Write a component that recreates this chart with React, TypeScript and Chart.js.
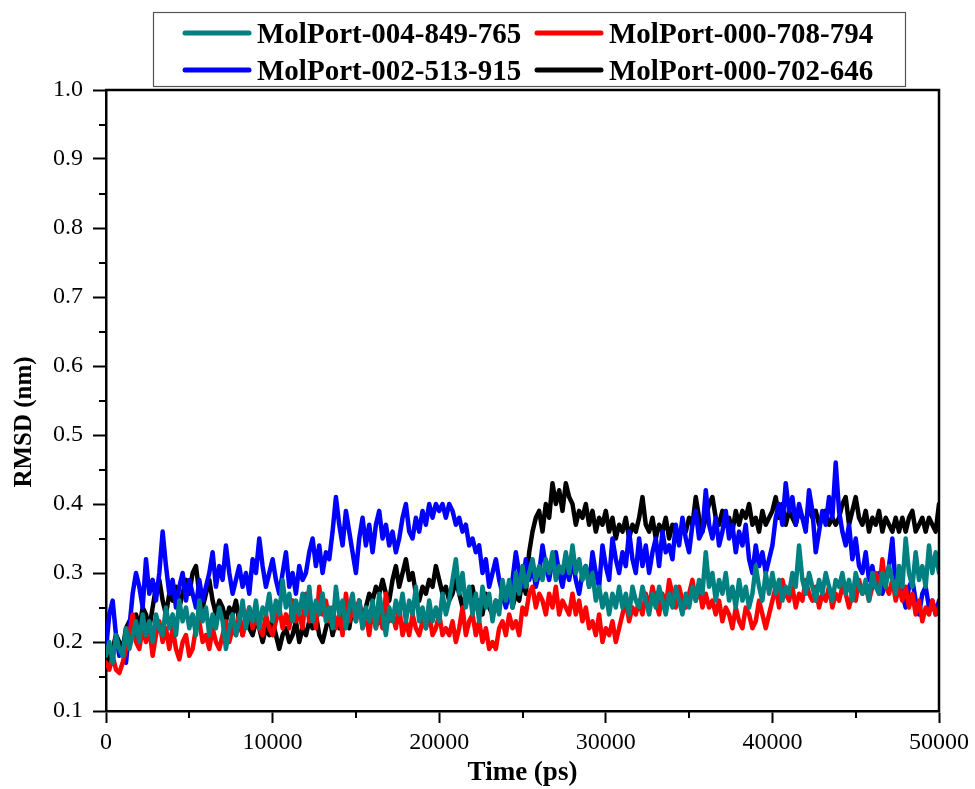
import React, { useEffect, useRef } from "react";
import { Chart, registerables } from "chart.js";

Chart.register(...registerables);

// ---------- data ----------
const SERIES_NAMES = [
  "MolPort-004-849-765",
  "MolPort-000-708-794",
  "MolPort-002-513-915",
  "MolPort-000-702-646",
];
const SERIES_COLORS = ["#008080", "#FF0000", "#0000FF", "#000000"];

const TIME_STEP_PS = 200; // sampling interval of the trajectory (ps)

const teal = [
  0.18, 0.2, 0.17, 0.21, 0.19, 0.18, 0.22, 0.19, 0.21, 0.23, 0.2, 0.24, 0.21, 0.23, 0.2, 0.24, 0.22, 0.21, 0.25, 0.22,
  0.24, 0.21, 0.26, 0.23, 0.25, 0.22, 0.24, 0.21, 0.26, 0.23, 0.25, 0.21, 0.24, 0.22, 0.25, 0.23, 0.19, 0.22, 0.24, 0.21,
  0.23, 0.26, 0.22, 0.25, 0.23, 0.26, 0.22, 0.25, 0.24, 0.27, 0.23, 0.26, 0.24, 0.29, 0.25, 0.27, 0.23, 0.26, 0.24, 0.27,
  0.24, 0.28, 0.23, 0.26, 0.24, 0.27, 0.23, 0.25, 0.22, 0.28, 0.24, 0.26, 0.22, 0.25, 0.27, 0.23, 0.26, 0.22, 0.25, 0.23,
  0.26, 0.22, 0.27, 0.24, 0.21, 0.25, 0.23, 0.26, 0.24, 0.27, 0.23, 0.26, 0.24, 0.28, 0.23, 0.25, 0.22, 0.26, 0.23, 0.25,
  0.23, 0.27, 0.24, 0.26, 0.29, 0.32, 0.27, 0.3, 0.25, 0.28, 0.24, 0.27, 0.23, 0.28, 0.25, 0.27, 0.23, 0.26, 0.24, 0.29,
  0.26, 0.29, 0.25, 0.3, 0.27, 0.31, 0.28, 0.3, 0.32, 0.29, 0.31, 0.29, 0.32, 0.3, 0.33, 0.29, 0.31, 0.3, 0.33, 0.3,
  0.34, 0.3, 0.32, 0.29, 0.31, 0.28, 0.3, 0.26, 0.28, 0.25, 0.27, 0.24, 0.27, 0.25, 0.28, 0.25, 0.27, 0.24, 0.28, 0.26,
  0.25, 0.28, 0.26, 0.24, 0.27, 0.25, 0.28, 0.26, 0.24, 0.27, 0.25, 0.28, 0.26, 0.24, 0.27, 0.25, 0.28, 0.26, 0.29, 0.27,
  0.33, 0.28, 0.3, 0.26, 0.29, 0.27, 0.3, 0.26, 0.28, 0.25, 0.29, 0.26, 0.28, 0.25, 0.27, 0.31, 0.28, 0.26, 0.3, 0.27,
  0.3, 0.27, 0.29, 0.26, 0.28, 0.27, 0.3, 0.28, 0.34, 0.29, 0.27, 0.3, 0.28, 0.26, 0.29, 0.27, 0.3, 0.28, 0.26, 0.29,
  0.28, 0.3, 0.27, 0.29, 0.26, 0.3, 0.28, 0.27, 0.29, 0.26, 0.3, 0.28, 0.27, 0.3, 0.28, 0.31, 0.29, 0.27, 0.31, 0.28,
  0.35, 0.3, 0.28, 0.33, 0.29, 0.31, 0.28, 0.34, 0.3, 0.33, 0.3,
];

const red = [
  0.17, 0.16, 0.18, 0.16, 0.155, 0.17, 0.19, 0.21, 0.24, 0.2, 0.19, 0.22, 0.2, 0.22, 0.18, 0.21, 0.23, 0.2, 0.22, 0.19,
  0.22, 0.19, 0.175, 0.2, 0.21, 0.18, 0.19, 0.22, 0.23, 0.2, 0.21, 0.19, 0.22, 0.2, 0.19, 0.21, 0.23, 0.2, 0.22, 0.21,
  0.24, 0.21, 0.23, 0.25, 0.22, 0.24, 0.22, 0.21, 0.24, 0.22, 0.21, 0.23, 0.25, 0.22, 0.24, 0.22, 0.26, 0.23, 0.24, 0.22,
  0.27, 0.23, 0.25, 0.22, 0.28, 0.24, 0.26, 0.23, 0.25, 0.22, 0.24, 0.21, 0.27, 0.23, 0.25, 0.23, 0.26, 0.22, 0.24, 0.21,
  0.25, 0.22, 0.24, 0.22, 0.27, 0.23, 0.24, 0.22, 0.25, 0.21, 0.23, 0.21, 0.24, 0.22, 0.21, 0.23, 0.22, 0.24, 0.21, 0.22,
  0.24, 0.21, 0.22, 0.21, 0.23, 0.2, 0.22, 0.25, 0.21, 0.23, 0.24, 0.21, 0.23, 0.2, 0.22, 0.19, 0.2, 0.19, 0.22, 0.23,
  0.21, 0.24, 0.22, 0.23, 0.21, 0.25, 0.24, 0.27, 0.28, 0.25, 0.27, 0.26, 0.24, 0.27, 0.25, 0.28, 0.24, 0.26, 0.25, 0.24,
  0.27, 0.24, 0.26, 0.23, 0.25, 0.22, 0.23, 0.21, 0.24, 0.2, 0.22, 0.21, 0.23, 0.2, 0.22, 0.24, 0.26, 0.23, 0.25, 0.24,
  0.26, 0.24, 0.27, 0.25, 0.28, 0.26, 0.24, 0.27, 0.25, 0.29, 0.27, 0.25, 0.28, 0.26, 0.25, 0.27, 0.29, 0.26, 0.28, 0.25,
  0.27, 0.25, 0.26, 0.24, 0.26, 0.23, 0.25, 0.24, 0.22, 0.25, 0.23, 0.22, 0.25, 0.24, 0.22, 0.23, 0.26, 0.24, 0.22, 0.24,
  0.26, 0.28, 0.25, 0.29, 0.27, 0.26, 0.28, 0.25, 0.27, 0.26, 0.29, 0.27, 0.26, 0.28, 0.25, 0.27, 0.26, 0.28, 0.25, 0.27,
  0.26, 0.28, 0.27, 0.25, 0.27, 0.26, 0.29, 0.27, 0.28, 0.26, 0.28, 0.3, 0.27, 0.32, 0.28, 0.27, 0.29, 0.26, 0.28, 0.26,
  0.28, 0.25, 0.27, 0.24, 0.26, 0.23, 0.25, 0.24, 0.26, 0.24, 0.25,
];

const blue = [
  0.19, 0.24, 0.26, 0.21, 0.18, 0.19, 0.17, 0.22, 0.27, 0.3, 0.28, 0.25, 0.32, 0.27, 0.29, 0.26, 0.3, 0.36, 0.31, 0.27,
  0.29, 0.25, 0.28, 0.3, 0.26, 0.29, 0.27, 0.25, 0.29, 0.26, 0.28, 0.3, 0.33, 0.28, 0.31, 0.29, 0.34, 0.3, 0.27, 0.29,
  0.31, 0.28, 0.3, 0.27, 0.32, 0.3, 0.35, 0.31, 0.28, 0.3, 0.32, 0.29, 0.27, 0.3, 0.33, 0.28, 0.3, 0.27, 0.31, 0.29,
  0.3, 0.33, 0.35, 0.31, 0.34, 0.3, 0.33, 0.32, 0.36, 0.41, 0.37, 0.34, 0.39, 0.36, 0.33, 0.3, 0.35, 0.38, 0.34, 0.37,
  0.33, 0.37, 0.39, 0.35, 0.37, 0.34, 0.36, 0.33, 0.35, 0.38, 0.4, 0.36, 0.35, 0.38, 0.36, 0.39, 0.37, 0.4, 0.38, 0.4,
  0.39, 0.4, 0.38, 0.4, 0.39, 0.37, 0.38, 0.36, 0.37, 0.34, 0.35, 0.33, 0.34, 0.3, 0.32, 0.28, 0.3, 0.32, 0.29, 0.27,
  0.25, 0.27, 0.29, 0.33, 0.3, 0.28, 0.32, 0.29, 0.31, 0.28, 0.3, 0.34, 0.31, 0.29, 0.32, 0.33, 0.3, 0.28, 0.31, 0.29,
  0.32, 0.29, 0.27, 0.3, 0.31, 0.28, 0.33, 0.3, 0.28, 0.34, 0.31, 0.29, 0.35, 0.32, 0.3, 0.33, 0.31, 0.36, 0.32, 0.3,
  0.35, 0.31, 0.34, 0.3, 0.33, 0.35, 0.31, 0.36, 0.33, 0.34, 0.32, 0.37, 0.34, 0.38, 0.35, 0.33, 0.37, 0.39, 0.35, 0.36,
  0.42, 0.37, 0.35, 0.38, 0.34, 0.36, 0.39, 0.35, 0.37, 0.33, 0.36, 0.34, 0.37, 0.32, 0.3, 0.34, 0.31, 0.33, 0.3, 0.32,
  0.34, 0.38, 0.4, 0.37, 0.43, 0.39, 0.41, 0.37, 0.4, 0.38, 0.36, 0.42, 0.39, 0.33, 0.36, 0.39, 0.37, 0.41, 0.38, 0.46,
  0.39, 0.36, 0.34, 0.37, 0.32, 0.35, 0.31, 0.3, 0.33, 0.29, 0.31, 0.28, 0.3, 0.27, 0.29, 0.31, 0.35, 0.28, 0.3, 0.27,
  0.25, 0.28, 0.29, 0.26, 0.24, 0.27, 0.28, 0.25, 0.26, 0.24, 0.26,
];

const black = [
  0.16, 0.18, 0.19, 0.21, 0.2, 0.19, 0.22, 0.23, 0.21, 0.24, 0.22, 0.25, 0.24, 0.22, 0.25, 0.28, 0.29, 0.26, 0.24, 0.27,
  0.26, 0.28, 0.25, 0.27, 0.29, 0.27, 0.3, 0.31, 0.27, 0.25, 0.27, 0.29, 0.26, 0.24, 0.26, 0.25, 0.23, 0.25, 0.24, 0.26,
  0.23, 0.21, 0.24, 0.22, 0.21, 0.23, 0.22, 0.2, 0.22, 0.21, 0.23, 0.21, 0.19, 0.21, 0.22, 0.2, 0.21, 0.23, 0.2, 0.22,
  0.21, 0.23, 0.22, 0.24, 0.21, 0.2, 0.22, 0.24, 0.21, 0.23, 0.22, 0.24, 0.23, 0.22, 0.25, 0.24, 0.26, 0.23, 0.25, 0.27,
  0.26, 0.28, 0.27, 0.29, 0.27, 0.26, 0.29, 0.31, 0.28, 0.3, 0.32, 0.29, 0.3, 0.27, 0.26, 0.28, 0.27, 0.29, 0.28, 0.31,
  0.29, 0.27, 0.28, 0.26, 0.27, 0.29, 0.27, 0.25, 0.27, 0.26, 0.28, 0.25, 0.26, 0.24, 0.27, 0.25, 0.24, 0.26, 0.25, 0.27,
  0.26, 0.28, 0.25, 0.27, 0.26, 0.29, 0.27, 0.33, 0.36, 0.38, 0.39, 0.36, 0.4, 0.38, 0.43, 0.4, 0.42, 0.39, 0.43, 0.41,
  0.4, 0.37, 0.39, 0.38, 0.4, 0.37, 0.39, 0.36, 0.38, 0.37, 0.39, 0.36, 0.38, 0.35, 0.37, 0.36, 0.38, 0.35, 0.37, 0.36,
  0.38, 0.41, 0.37, 0.36, 0.38, 0.35, 0.37, 0.36, 0.38, 0.35, 0.37, 0.36, 0.35, 0.37, 0.36, 0.38, 0.37, 0.41, 0.38, 0.36,
  0.38, 0.4, 0.41, 0.38, 0.37, 0.39, 0.37, 0.38, 0.36, 0.39, 0.37, 0.39, 0.38, 0.4, 0.37, 0.38, 0.36, 0.39, 0.37, 0.38,
  0.39, 0.41, 0.38, 0.4, 0.37, 0.39, 0.38, 0.37, 0.39, 0.38, 0.37, 0.4, 0.38, 0.39, 0.37, 0.38, 0.39, 0.37, 0.38, 0.37,
  0.38, 0.4, 0.41, 0.37, 0.39, 0.41, 0.38, 0.37, 0.39, 0.36, 0.38, 0.37, 0.39, 0.36, 0.38, 0.37, 0.36, 0.38, 0.36, 0.38,
  0.36, 0.38, 0.39, 0.36, 0.37, 0.38, 0.36, 0.38, 0.37, 0.36, 0.4,
];

const X_MIN = 0;
const X_MAX = 50000;
const X_STEP = 10000;
const Y_MIN = 0.1;
const Y_MAX = 1.0;
const Y_STEP = 0.1;
const X_TITLE = "Time (ps)";
const Y_TITLE = "RMSD (nm)";

// ---------- helpers ----------
const SERIF = "'Liberation Serif', 'Times New Roman', serif";

const toPoints = (vals: number[]) =>
  vals.map((v, i) => ({ x: i * TIME_STEP_PS, y: v }));

const decorPlugin = {
  id: "decor",
  beforeDraw(chart: any) {
    const { ctx, width, height } = chart;
    ctx.save();
    ctx.fillStyle = "#ffffff";
    ctx.fillRect(0, 0, width, height);
    ctx.restore();
  },
  afterDraw(chart: any) {
    const { ctx, chartArea } = chart;
    const { left, right, top, bottom } = chartArea;
    const xs = chart.scales.x;
    const ys = chart.scales.y;
    ctx.save();
    ctx.strokeStyle = "#000";
    ctx.lineWidth = 2.5;
    ctx.lineCap = "butt";
    // top & right frame
    ctx.beginPath();
    ctx.moveTo(left - 1, top);
    ctx.lineTo(right, top);
    ctx.lineTo(right, bottom + 1);
    ctx.stroke();
    // minor ticks
    ctx.lineWidth = 2;
    for (let v = X_MIN + X_STEP / 2; v < X_MAX; v += X_STEP) {
      const px = Math.round(xs.getPixelForValue(v));
      ctx.beginPath();
      ctx.moveTo(px, bottom);
      ctx.lineTo(px, bottom + 7);
      ctx.stroke();
    }
    for (let v = Y_MIN + Y_STEP / 2; v < Y_MAX; v += Y_STEP) {
      const py = Math.round(ys.getPixelForValue(v));
      ctx.beginPath();
      ctx.moveTo(left, py);
      ctx.lineTo(left - 7, py);
      ctx.stroke();
    }
    // y title
    ctx.fillStyle = "#000";
    ctx.font = `bold 25px ${SERIF}`;
    ctx.textAlign = "center";
    ctx.textBaseline = "middle";
    ctx.translate(25, 422);
    ctx.rotate(-Math.PI / 2);
    ctx.fillText(Y_TITLE, 0, 0);
    ctx.restore();

    // legend
    ctx.save();
    const bx = 153, by = 12, bw = 752, bh = 74;
    ctx.strokeStyle = "#555";
    ctx.lineWidth = 1.2;
    ctx.strokeRect(bx + 0.5, by + 0.5, bw, bh);
    const cols = [183, 535];
    const rows = [33, 70];
    ctx.font = `bold 29px ${SERIF}`;
    ctx.textAlign = "left";
    ctx.textBaseline = "alphabetic";
    SERIES_NAMES.forEach((name, i) => {
      const cx = cols[i % 2];
      const ry = rows[Math.floor(i / 2)];
      ctx.strokeStyle = SERIES_COLORS[i];
      ctx.lineWidth = 5;
      ctx.lineCap = "round";
      ctx.beginPath();
      ctx.moveTo(cx + 2, ry);
      ctx.lineTo(cx + 66, ry);
      ctx.stroke();
      ctx.fillStyle = "#000";
      ctx.fillText(name, cx + 74, ry + 9.5);
    });
    ctx.restore();
  },
};

export default function App() {
  const ref = useRef<HTMLCanvasElement | null>(null);

  useEffect(() => {
    if (!ref.current) return;
    const seriesData = [teal, red, blue, black];
    const chart = new Chart(ref.current, {
      type: "line",
      data: {
        datasets: seriesData.map((vals, i) => ({
          label: SERIES_NAMES[i],
          data: toPoints(vals),
          borderColor: SERIES_COLORS[i],
          backgroundColor: SERIES_COLORS[i],
          borderWidth: 4.5,
          pointRadius: 0,
          tension: 0,
          borderJoinStyle: "round" as const,
          borderCapStyle: "round" as const,
          order: i,
        })),
      },
      options: {
        responsive: false,
        devicePixelRatio: 1,
        animation: false,
        layout: { padding: { top: 90, right: 36, left: 0, bottom: 0 } },
        plugins: {
          legend: { display: false },
          tooltip: { enabled: false },
        },
        scales: {
          x: {
            type: "linear",
            min: X_MIN,
            max: X_MAX,
            afterFit: (s: any) => {
              s.height = 78;
            },
            ticks: {
              stepSize: X_STEP,
              color: "#000",
              padding: 5,
              maxRotation: 0,
              font: { family: SERIF, size: 24 },
              callback: (v: any) => String(v),
            },
            grid: {
              drawOnChartArea: false,
              drawTicks: true,
              tickLength: 12,
              tickWidth: 2,
              tickColor: "#000",
            },
            border: { display: true, color: "#000", width: 2.5 },
            title: {
              display: true,
              text: X_TITLE,
              color: "#000",
              font: { family: SERIF, size: 27, weight: "bold" },
              padding: { top: 0, bottom: 0 },
            },
          },
          y: {
            type: "linear",
            min: Y_MIN,
            max: Y_MAX,
            afterFit: (s: any) => {
              s.width = 106;
            },
            ticks: {
              stepSize: Y_STEP,
              color: "#000",
              padding: 10,
              font: { family: SERIF, size: 24 },
              callback: (v: any) => Number(v).toFixed(1),
            },
            grid: {
              drawOnChartArea: false,
              drawTicks: true,
              tickLength: 13,
              tickWidth: 2,
              tickColor: "#000",
            },
            border: { display: true, color: "#000", width: 2.5 },
          },
        },
      },
      plugins: [decorPlugin],
    });
    return () => chart.destroy();
  }, []);

  return (
    <div style={{ position: "absolute", left: 0, top: 0, width: 975, height: 789, background: "#fff" }}>
      <canvas ref={ref} width={975} height={789} style={{ display: "block" }} />
    </div>
  );
}
